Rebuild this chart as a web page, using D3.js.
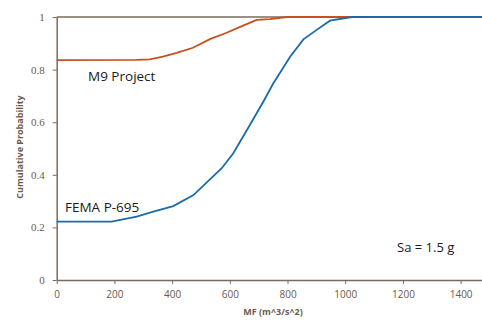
<!DOCTYPE html>
<html>
<head>
<meta charset="utf-8">
<script src="https://cdn.jsdelivr.net/npm/d3@7"></script>
<style>
  body { margin: 0; background: #fff; }
  svg { display: block; }
</style>
</head>
<body>
<div id="main_output"></div>
<script>
// values
var xTicks = [0, 200, 400, 600, 800, 1000, 1200, 1400];
var yTicks = [0, 0.2, 0.4, 0.6, 0.8, 1];

var m9_mf   = [0, 277, 323, 368, 416, 472, 531, 589, 646, 693, 739, 797, 1500];
var m9_prob = [0.836, 0.837, 0.839, 0.849, 0.864, 0.883, 0.916, 0.940, 0.967, 0.989, 0.992, 1, 1];

var fema_mf   = [0, 190, 277, 335, 404, 474, 572, 612, 670, 716, 751, 809, 855, 901, 947, 1017, 1030, 1500];
var fema_prob = [0.222, 0.222, 0.241, 0.260, 0.281, 0.323, 0.425, 0.482, 0.590, 0.678, 0.748, 0.849, 0.915, 0.951, 0.986, 0.999, 1, 1];

var width = 482, height = 320;
var axisColor = "#7b6b5d";
var labelColor = "#6b5a4c";

var x = d3.scaleLinear().domain([0, 1500]).range([56.7, 489.5]);
var y = d3.scaleLinear().domain([0, 1]).range([280, 17]);

var svg = d3.select("#main_output").append("svg")
  .attr("width", width)
  .attr("height", height);

// x axis
var xAxis = svg.append("g")
  .attr("transform", "translate(0," + y(0) + ")")
  .call(d3.axisBottom(x).tickValues(xTicks).tickFormat(d3.format("d"))
    .tickSize(4).tickSizeOuter(0).tickPadding(7));
xAxis.select(".domain").attr("stroke", axisColor).attr("stroke-width", 1.5);
xAxis.selectAll(".tick line").attr("stroke", axisColor);
xAxis.selectAll("text")
  .attr("fill", labelColor)
  .style("font-family", "'Open Sans', sans-serif")
  .style("font-size", "10px");

// y axis
var yAxis = svg.append("g")
  .attr("transform", "translate(" + x(0) + ",0)")
  .call(d3.axisLeft(y).tickValues(yTicks).tickSize(4).tickSizeOuter(0).tickPadding(8)
    .tickFormat(function(d) { return d === 0 || d === 1 ? d : d.toFixed(1); }));
yAxis.select(".domain").attr("stroke", axisColor).attr("stroke-width", 1.5);
yAxis.selectAll(".tick line").attr("stroke", axisColor);
yAxis.selectAll("text")
  .attr("fill", labelColor)
  .style("font-family", "'Liberation Serif', serif")
  .style("font-size", "11px");

// top frame line
svg.append("line")
  .attr("x1", x(0)).attr("x2", width)
  .attr("y1", y(1)).attr("y2", y(1))
  .attr("stroke", axisColor)
  .attr("stroke-width", 1.5);

var line = d3.line()
  .x(function(d) { return x(d[0]); })
  .y(function(d) { return y(d[1]); });

svg.append("path")
  .datum(d3.zip(m9_mf, m9_prob))
  .attr("fill", "none")
  .attr("stroke", "#c94f1c")
  .attr("stroke-width", 1.8)
  .attr("d", line);

svg.append("path")
  .datum(d3.zip(fema_mf, fema_prob))
  .attr("fill", "none")
  .attr("stroke", "#1c6aa8")
  .attr("stroke-width", 1.8)
  .attr("d", line);

// labels
function label(txt, px, py, size, anchor) {
  return svg.append("text")
    .attr("x", px).attr("y", py)
    .attr("text-anchor", anchor || "start")
    .style("font-family", "'Open Sans', sans-serif")
    .style("font-size", size + "px")
    .attr("fill", "#1a1a1a")
    .text(txt);
}
label("M9 Project", 88, 81, 13.5);
label("FEMA P-695", 65, 212, 13.5);
label("Sa = 1.5 g", 397, 252, 13);

// axis titles
svg.append("text")
  .attr("x", 273).attr("y", 315)
  .attr("text-anchor", "middle")
  .style("font-family", "'Open Sans', sans-serif")
  .style("font-size", "9px")
  .style("font-weight", "bold")
  .attr("fill", labelColor)
  .text("MF (m^3/s^2)");

svg.append("text")
  .attr("transform", "translate(23,147) rotate(-90)")
  .attr("text-anchor", "middle")
  .style("font-family", "'Open Sans', sans-serif")
  .style("font-size", "9px")
  .style("font-weight", "bold")
  .attr("fill", labelColor)
  .text("Cumulative Probability");
</script>
</body>
</html>
